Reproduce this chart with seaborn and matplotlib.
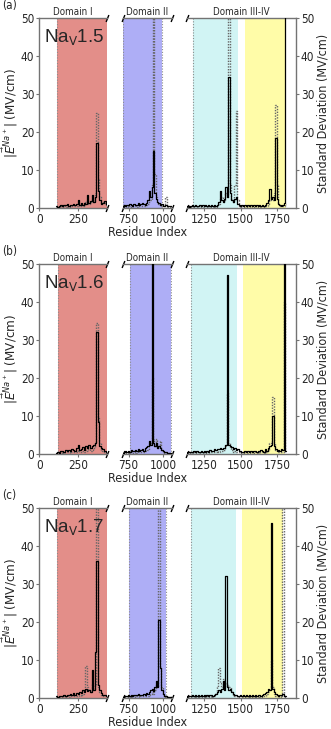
import numpy as np
import pandas as pd
import matplotlib
matplotlib.use('Agg')
import matplotlib.pyplot as plt
import seaborn as sns

# residue grid of each x-axis segment (one value every 10 residues)
res_d1 = np.arange(110, 440, 10)
res_d2 = np.arange(710, 1040, 10)
res_d34 = np.arange(1130, 1820, 10)

# ---- Nav1.5 ----
mean_15_d1 = [0.4, 0.3, 0.6, 0.9, 0.5, 0.8, 0.7, 1.0, 0.6, 0.9, 0.8,
              1.1, 0.7, 1.0, 2.0, 0.9, 1.2, 0.8, 1.4, 1.0, 3.3, 1.4,
              1.8, 3.5, 1.6, 3.0, 17.0, 4.5, 2.2, 1.0, 1.4, 1.8, 1.1]
std_15_d1 = [0.2, 0.2, 0.3, 0.4, 0.3, 0.4, 0.3, 0.5, 0.3, 0.4, 0.4,
             0.5, 0.4, 0.5, 0.8, 0.5, 0.6, 0.4, 0.7, 1.5, 2.0, 1.0,
             1.5, 2.5, 1.5, 4.0, 25.0, 8.0, 3.0, 1.0, 1.5, 1.2, 0.8]
mean_15_d2 = [0.5, 0.8, 0.6, 0.9, 0.7, 1.0, 0.8, 0.6, 1.1, 0.9, 0.7,
              1.2, 0.9, 1.0, 1.3, 1.1, 0.8, 1.4, 2.0, 4.5, 3.0, 5.5,
              15.0, 4.0, 2.5, 1.5, 1.2, 0.8, 1.0, 0.6, 0.5, 0.7, 0.4]
std_15_d2 = [0.2, 0.3, 0.3, 0.4, 0.3, 0.4, 0.3, 0.3, 0.5, 0.4, 0.3,
             0.5, 0.4, 0.4, 0.6, 0.5, 0.4, 0.7, 1.0, 2.5, 2.0, 6.0,
             60.0, 9.0, 3.0, 1.5, 1.0, 0.8, 0.5, 0.4, 0.5, 3.0, 0.3]
mean_15_d34 = [0.4, 0.6, 0.3, 0.5, 0.7, 0.4, 0.8, 0.6, 0.5, 0.9,
               0.6, 0.7, 0.5, 0.8, 0.6, 0.9, 0.5, 0.7, 0.6, 0.8,
               0.5, 0.9, 1.5, 4.5, 2.0, 1.5, 2.5, 5.5, 3.0, 34.5,
               4.0, 2.0, 1.5, 2.5, 3.0, 1.0, 0.8, 0.6, 0.9, 0.5,
               0.7, 0.6, 0.8, 0.5, 0.9, 0.6, 0.7, 0.5, 0.8, 0.6,
               0.7, 0.5, 0.9, 0.6, 0.8, 1.2, 2.0, 5.0, 2.5, 3.0,
               2.0, 18.5, 2.5, 1.0, 0.8, 0.6, 0.9, 1.2, 60.0]
std_15_d34 = [0.2, 0.3, 0.2, 0.3, 0.3, 0.2, 0.4, 0.3, 0.3, 0.4,
              0.3, 0.3, 0.2, 0.4, 0.3, 0.4, 0.3, 0.3, 0.3, 0.4,
              0.3, 0.5, 1.0, 2.5, 3.0, 1.5, 2.0, 4.0, 3.0, 60.0,
              6.0, 2.0, 1.5, 6.0, 25.5, 2.0, 0.5, 0.3, 0.4, 0.3,
              0.3, 0.3, 0.4, 0.3, 0.4, 0.3, 0.3, 0.3, 0.4, 0.3,
              0.3, 0.3, 0.4, 0.3, 0.4, 0.6, 1.0, 2.0, 3.0, 2.0,
              4.0, 27.0, 6.0, 1.0, 0.5, 0.4, 0.4, 0.6, 1.0]

# ---- Nav1.6 ----
mean_16_d1 = [0.3, 0.4, 0.3, 0.7, 0.9, 0.6, 1.0, 0.8, 1.1, 0.7, 1.2,
              1.0, 0.9, 1.5, 2.5, 1.0, 1.3, 1.8, 1.1, 2.2, 1.5, 2.5,
              1.6, 2.0, 2.3, 3.0, 32.0, 8.5, 2.0, 1.5, 1.2, 0.9, 0.6]
std_16_d1 = [0.2, 0.2, 0.2, 0.3, 0.4, 0.3, 0.4, 0.4, 0.5, 0.3, 0.5,
             0.4, 0.4, 0.6, 1.0, 0.5, 0.6, 0.8, 0.5, 1.0, 0.8, 1.2,
             0.8, 1.0, 1.5, 3.0, 34.5, 9.5, 3.0, 1.0, 0.8, 0.5, 0.3]
mean_16_d2 = [0.3, 0.5, 0.7, 0.5, 0.9, 0.6, 1.0, 0.8, 0.7, 1.1, 0.8,
              1.2, 0.9, 1.0, 1.3, 0.9, 1.5, 1.8, 2.0, 3.5, 2.5, 60.0,
              3.0, 2.0, 3.0, 1.5, 2.0, 1.5, 1.0, 0.8, 0.5, 0.4, 0.3]
std_16_d2 = [0.2, 0.2, 0.3, 0.2, 0.4, 0.3, 0.4, 0.3, 0.3, 0.5, 0.3,
             0.5, 0.4, 0.4, 0.6, 0.4, 0.7, 0.8, 1.0, 2.0, 3.0, 20.0,
             4.0, 2.0, 4.0, 1.5, 2.0, 3.5, 1.0, 0.5, 0.3, 0.3, 0.2]
mean_16_d34 = [0.3, 0.5, 0.4, 0.6, 0.5, 0.7, 0.4, 0.8, 0.6, 0.5,
               0.9, 0.6, 0.7, 0.5, 0.8, 0.6, 1.0, 0.7, 0.9, 1.2,
               1.0, 1.4, 1.2, 1.6, 1.3, 1.5, 1.5, 2.5, 47.0, 2.5,
               2.0, 1.8, 1.2, 1.5, 1.0, 1.3, 0.9, 0.7, 0.5, 0.6,
               0.8, 0.5, 0.7, 0.6, 0.9, 0.5, 0.7, 0.8, 0.6, 0.9,
               0.7, 1.0, 0.8, 0.6, 1.2, 0.9, 1.5, 2.0, 2.5, 10.0,
               2.0, 1.2, 0.9, 1.1, 0.8, 1.3, 1.0, 60.0, 0.8]
std_16_d34 = [0.2, 0.3, 0.2, 0.3, 0.3, 0.4, 0.2, 0.4, 0.3, 0.3,
              0.4, 0.3, 0.3, 0.3, 0.4, 0.3, 0.5, 0.4, 0.4, 0.6,
              0.5, 0.7, 0.6, 0.8, 0.7, 0.8, 1.0, 2.0, 16.0, 3.0,
              1.5, 1.0, 0.6, 0.8, 0.5, 0.6, 0.4, 0.3, 0.3, 0.3,
              0.4, 0.3, 0.3, 0.3, 0.4, 0.3, 0.3, 0.4, 0.3, 0.4,
              0.3, 0.5, 0.4, 0.3, 0.6, 0.5, 1.0, 3.0, 3.0, 15.0,
              3.0, 1.0, 0.5, 0.5, 0.4, 0.6, 0.5, 40.0, 0.4]

# ---- Nav1.7 ----
mean_17_d1 = [0.4, 0.3, 0.5, 0.6, 0.4, 0.8, 0.6, 0.9, 0.7, 1.0, 0.8,
              1.2, 0.9, 1.4, 1.1, 1.6, 1.3, 2.0, 1.5, 2.5, 1.8, 2.2,
              1.6, 7.5, 2.0, 12.0, 36.0, 3.5, 2.0, 1.2, 0.9, 0.7, 0.5]
std_17_d1 = [0.2, 0.2, 0.3, 0.3, 0.2, 0.4, 0.3, 0.4, 0.3, 0.5, 0.4,
             0.5, 0.4, 0.6, 0.5, 0.7, 0.6, 1.0, 2.0, 8.5, 3.0, 2.0,
             1.5, 4.0, 2.5, 3.5, 60.0, 3.0, 1.5, 0.8, 0.5, 0.4, 0.3]
mean_17_d2 = [0.3, 0.4, 0.6, 0.5, 0.7, 0.5, 0.8, 0.6, 0.9, 0.7, 0.8,
              1.0, 0.7, 0.9, 0.8, 1.1, 0.9, 1.2, 1.0, 1.5, 2.0, 2.5,
              1.8, 3.0, 4.5, 3.0, 20.5, 8.0, 2.0, 1.0, 0.6, 0.4, 0.3]
std_17_d2 = [0.2, 0.2, 0.3, 0.2, 0.3, 0.2, 0.4, 0.3, 0.4, 0.3, 0.4,
             0.5, 0.3, 0.4, 0.4, 0.5, 0.4, 0.6, 0.5, 0.8, 1.0, 1.5,
             1.0, 2.0, 3.5, 3.0, 60.0, 8.0, 3.0, 1.0, 0.5, 0.3, 0.2]
mean_17_d34 = [0.3, 0.5, 0.6, 0.4, 0.7, 0.5, 0.8, 0.6, 0.9, 0.5,
               0.7, 0.6, 0.8, 0.5, 0.9, 0.6, 0.7, 0.8, 0.6, 0.9,
               1.0, 1.5, 2.0, 1.5, 2.5, 4.5, 2.0, 32.0, 3.0, 2.0,
               2.5, 1.5, 1.0, 0.8, 0.7, 0.5, 0.6, 0.8, 0.5, 0.7,
               0.6, 0.8, 0.5, 0.9, 0.6, 0.7, 0.5, 0.8, 0.6, 0.7,
               0.9, 0.6, 0.8, 1.0, 1.2, 1.5, 2.5, 2.0, 46.0, 2.5,
               1.5, 1.0, 0.8, 0.6, 0.9, 0.7, 1.0, 0.5, 0.4]
std_17_d34 = [0.2, 0.3, 0.3, 0.2, 0.4, 0.3, 0.4, 0.3, 0.4, 0.3,
              0.3, 0.3, 0.4, 0.3, 0.4, 0.3, 0.3, 0.4, 0.3, 0.4,
              1.0, 3.0, 8.0, 4.0, 3.0, 5.0, 3.0, 4.0, 3.5, 3.0,
              3.0, 1.5, 0.8, 0.5, 0.4, 0.3, 0.3, 0.4, 0.3, 0.3,
              0.3, 0.4, 0.3, 0.4, 0.3, 0.3, 0.3, 0.4, 0.3, 0.3,
              0.4, 0.3, 0.4, 0.5, 0.6, 1.0, 1.5, 2.0, 10.0, 3.0,
              1.0, 0.6, 0.4, 0.3, 0.4, 0.3, 60.0, 0.3, 0.2]

# domain boundaries (residue index) for DI, DII, DIII, DIV
domains_15 = [(111, 445), (712, 988), (1175, 1483), (1529, 1809)]
domains_16 = [(120, 445), (760, 1058), (1157, 1472), (1513, 1802)]
domains_17 = [(115, 445), (755, 1019), (1157, 1467), (1506, 1791)]
domain_colors = ['#e38e89', '#aeaef6', '#d1f4f4', '#fffca8']

seg_titles = ['Domain I', 'Domain II', 'Domain III-IV']
seg_lims = [(0, 432), (712, 1060), (1130, 1878)]
seg_ticks = [[0, 250], [750, 1000], [1250, 1500, 1750]]

sns.set_style('ticks')
plt.rcParams['font.family'] = ['DejaVu Sans']
plt.rcParams['font.stretch'] = 'condensed'
plt.rcParams['axes.edgecolor'] = '0.45'

W, H = 331, 729
fig = plt.figure(figsize=(W / 100, H / 100), dpi=100)

seg_px = [(39.3, 67.4), (123.3, 48.4), (186.7, 109.3)]
row_tops = [18, 264, 508]
row_h = 190

panels = [
    ('(a)', '1.5', [mean_15_d1, mean_15_d2, mean_15_d34], [std_15_d1, std_15_d2, std_15_d34], domains_15),
    ('(b)', '1.6', [mean_16_d1, mean_16_d2, mean_16_d34], [std_16_d1, std_16_d2, std_16_d34], domains_16),
    ('(c)', '1.7', [mean_17_d1, mean_17_d2, mean_17_d34], [std_17_d1, std_17_d2, std_17_d34], domains_17),
]

res = np.concatenate([res_d1, res_d2, res_d34])
slash = dict(marker=[(-1, -2.5), (1, 2.5)], markersize=5, linestyle='none',
             color='k', mec='k', mew=1, clip_on=False)

for row, (tag, name, means, stds, doms) in enumerate(panels):
    df = pd.DataFrame({'res': res, 'mean': np.concatenate(means), 'std': np.concatenate(stds)})
    top = row_tops[row]
    bottom = top + row_h
    for i in range(3):
        x0, w = seg_px[i]
        ax = fig.add_axes([x0 / W, 1 - bottom / H, w / W, row_h / H])
        for (a, b), c in zip(doms, domain_colors):
            ax.axvspan(a, b, color=c, lw=0, zorder=0)
        for xv in [doms[0][0], doms[1][0], doms[1][1], doms[2][0]]:
            ax.axvline(xv, color='0.55', ls=(0, (1, 1.5)), lw=0.8, zorder=1)
        sns.lineplot(data=df, x='res', y='std', ax=ax, color='0.4', lw=1.0,
                     linestyle=(0, (1, 1)), drawstyle='steps-mid', zorder=2)
        sns.lineplot(data=df, x='res', y='mean', ax=ax, color='k', lw=0.9,
                     drawstyle='steps-mid', zorder=3)
        ax.set_xlim(seg_lims[i])
        ax.set_ylim(0, 50)
        ax.set_xticks(seg_ticks[i])
        ax.set_yticks(range(0, 51, 10))
        ax.set_xlabel('')
        ax.set_ylabel('')
        ax.set_title(seg_titles[i], fontsize=7, pad=2)
        ax.tick_params(labelsize=8.5, length=2.5, width=0.8, color='0.45', pad=1)
        for s in ax.spines.values():
            s.set_linewidth(1.0)
        if i == 0:
            ax.spines['right'].set_visible(False)
            ax.plot([1, 1], [0, 1], transform=ax.transAxes, **slash)
            ax.text(0.07, 1 - 10 / row_h, 'Na$_\\mathrm{V}$' + name, transform=ax.transAxes,
                    ha='left', va='top', fontsize=13.5, family='Liberation Sans',
                    fontstretch='normal')
        elif i == 1:
            ax.spines['left'].set_visible(False)
            ax.spines['right'].set_visible(False)
            ax.tick_params(left=False, labelleft=False)
            ax.plot([0, 0, 1, 1], [0, 1, 0, 1], transform=ax.transAxes, **slash)
        else:
            ax.spines['left'].set_visible(False)
            ax.yaxis.tick_right()
            ax.tick_params(left=False, labelleft=False, right=True, labelright=True)
            ax.plot([0, 0], [0, 1], transform=ax.transAxes, **slash)

    mid = 1 - (top + row_h / 2) / H
    fig.text(10 / W, mid, r'$|\vec{E}^{Na^+}|$ (MV/cm)', rotation=90,
             ha='center', va='center', fontsize=9.5)
    fig.text(322.5 / W, mid, 'Standard Deviation (MV/cm)', rotation=90,
             ha='center', va='center', fontsize=9)
    fig.text(147.5 / W, 1 - (bottom + 28) / H, 'Residue Index',
             ha='center', va='baseline', fontsize=9)
    fig.text(2 / W, 1 - (top - 12) / H, tag, ha='left', va='center', fontsize=8.5)

fig.savefig('out.png', dpi=100)
